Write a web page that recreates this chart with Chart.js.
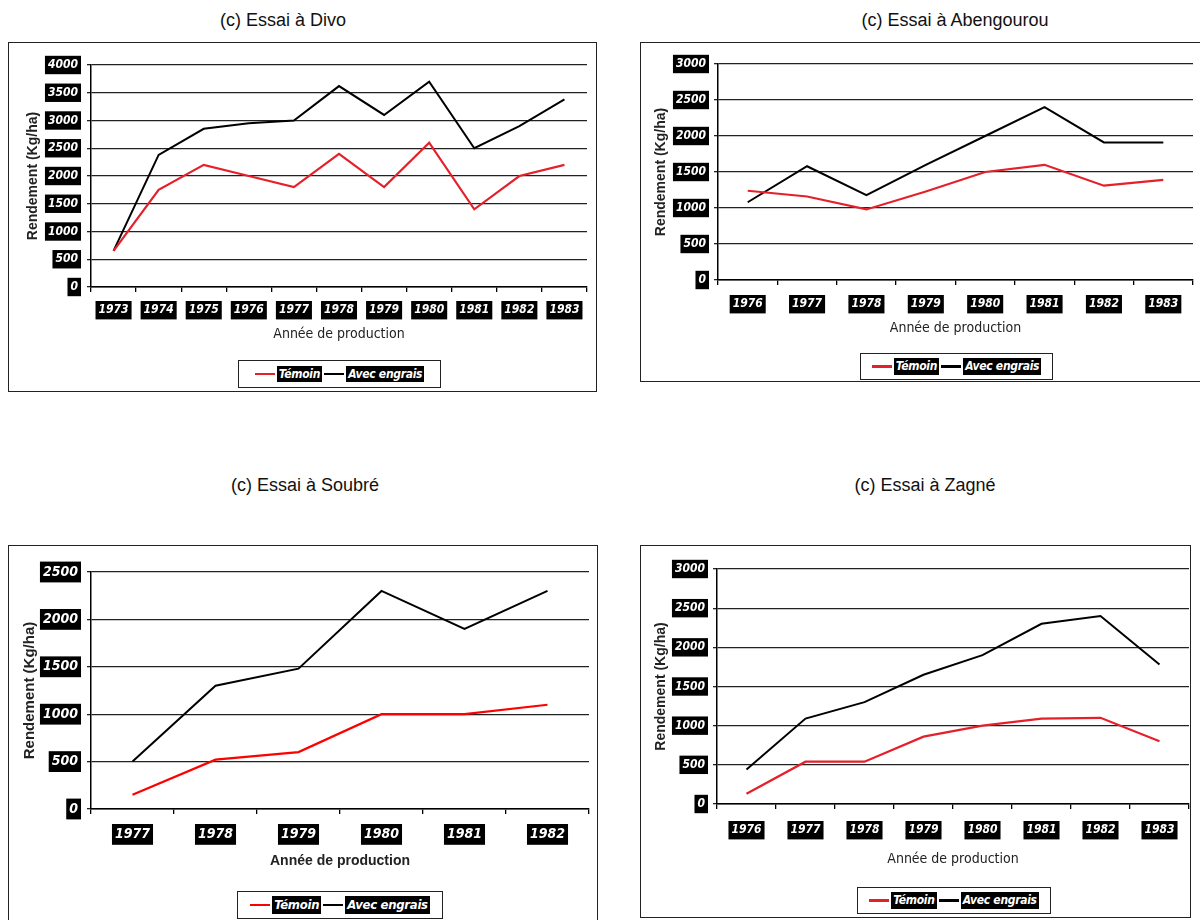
<!DOCTYPE html>
<html lang="fr">
<head>
<meta charset="UTF-8">
<title>Rendements - essais</title>
<script src="https://cdn.jsdelivr.net/npm/chart.js@4.4.1/dist/chart.umd.min.js"></script>
<style>
  body { margin: 0; background: #fff; width: 1200px; height: 920px; position: relative; overflow: hidden;
         font-family: "Liberation Sans", Arial, sans-serif; }
  .ttl { position: absolute; font-size: 18px; transform: translateX(-50%); white-space: nowrap; color: #111; }
  .frame { position: absolute; border: 1.5px solid #222; box-sizing: border-box; pointer-events: none; }
  canvas { position: absolute; }
  .leg { position: absolute; border: 1.5px solid #222; box-sizing: border-box; display: flex;
         align-items: center; justify-content: center; gap: 2px; background: #fff; white-space: nowrap;
         font-family: "Liberation Sans Narrow", "DejaVu Sans Condensed", Arial, sans-serif;
         font-style: italic; font-weight: bold; color: #fff; letter-spacing: -0.3px; }
  .leg .sw { display: inline-block; width: 20px; height: 2.5px; flex: none; }
  .leg .tx { background: #000; padding: 1px 2px; line-height: 1.2; }
</style>
</head>
<body>
<div class="ttl" style="left:283px;top:10px">(c) Essai à Divo</div>
<div class="ttl" style="left:955px;top:10px">(c) Essai à Abengourou</div>
<div class="ttl" style="left:305px;top:475px">(c) Essai à Soubré</div>
<div class="ttl" style="left:925px;top:475px">(c) Essai à Zagné</div>

<canvas id="c1" width="589" height="350" style="left:8px;top:42px"></canvas>
<canvas id="c2" width="563" height="340" style="left:640px;top:42px"></canvas>
<canvas id="c3" width="590" height="380" style="left:8px;top:545px"></canvas>
<canvas id="c4" width="551" height="373" style="left:640px;top:545px"></canvas>

<div class="frame" style="left:8px;top:42px;width:589px;height:350px"></div>
<div class="frame" style="left:640px;top:42px;width:563px;height:340px"></div>
<div class="frame" style="left:8px;top:545px;width:590px;height:380px"></div>
<div class="frame" style="left:640px;top:545px;width:551px;height:373px"></div>

<div class="leg" style="left:238px;top:360px;width:203px;height:28px;font-size:12px">
  <span class="sw" style="background:#e5202a"></span><span class="tx">Témoin</span>
  <span class="sw" style="background:#000"></span><span class="tx">Avec engrais</span>
</div>
<div class="leg" style="left:860px;top:353px;width:193px;height:27px;font-size:12px">
  <span class="sw" style="background:#e5202a"></span><span class="tx">Témoin</span>
  <span class="sw" style="background:#000"></span><span class="tx">Avec engrais</span>
</div>
<div class="leg" style="left:237px;top:891px;width:206px;height:28px;font-size:13px">
  <span class="sw" style="background:#ff0000"></span><span class="tx">Témoin</span>
  <span class="sw" style="background:#000"></span><span class="tx">Avec engrais</span>
</div>
<div class="leg" style="left:857px;top:887px;width:194px;height:27px;font-size:12px">
  <span class="sw" style="background:#e5202a"></span><span class="tx">Témoin</span>
  <span class="sw" style="background:#000"></span><span class="tx">Avec engrais</span>
</div>

<script>
// Divo
const divoYears = ["1973","1974","1975","1976","1977","1978","1979","1980","1981","1982","1983"];
const divoTemoin = [650, 1750, 2200, 2000, 1800, 2400, 1800, 2600, 1400, 2000, 2200];
const divoEngrais = [650, 2380, 2850, 2950, 3000, 3620, 3100, 3700, 2500, 2900, 3380];

// Abengourou
const abengYears = ["1976","1977","1978","1979","1980","1981","1982","1983"];
const abengTemoin = [1240, 1160, 980, 1230, 1500, 1600, 1310, 1390];
const abengEngrais = [1080, 1580, 1180, 1600, 2000, 2400, 1910, 1910];

// Soubré
const soubreYears = ["1977","1978","1979","1980","1981","1982"];
const soubreTemoin = [150, 520, 600, 1000, 1000, 1100];
const soubreEngrais = [500, 1300, 1480, 2300, 1900, 2300];

// Zagné
const zagneYears = ["1976","1977","1978","1979","1980","1981","1982","1983"];
const zagneTemoin = [130, 540, 540, 860, 1000, 1090, 1100, 800];
const zagneEngrais = [440, 1090, 1300, 1650, 1900, 2300, 2400, 1780];

const NARROW = '"Liberation Sans Narrow", "DejaVu Sans Condensed", Arial, sans-serif';
const SANS = '"Liberation Sans", Arial, sans-serif';

function makeChart(id, o) {
  const ctx = document.getElementById(id).getContext("2d");
  const labelFont = { family: NARROW, size: o.fs, style: "italic", weight: "bold" };
  return new Chart(ctx, {
    type: "line",
    data: {
      labels: o.labels,
      datasets: [
        { label: "Témoin", data: o.temoin, borderColor: o.red, borderWidth: 2.2 },
        { label: "Avec engrais", data: o.engrais, borderColor: "#000", borderWidth: 2 }
      ]
    },
    options: {
      responsive: false,
      animation: false,
      events: [],
      elements: { point: { radius: 0 }, line: { tension: 0 } },
      layout: { padding: { left: 0, top: o.pad[0], right: o.pad[1], bottom: o.pad[2] } },
      plugins: { legend: { display: false }, tooltip: { enabled: false } },
      scales: {
        x: {
          offset: true,
          afterFit: s => { s.height = o.xh; },
          grid: { offset: true, drawOnChartArea: false, drawTicks: true, tickLength: 5, color: "#000", lineWidth: 1.3 },
          border: { color: "#000", width: 1.5 },
          ticks: {
            color: "#fff", font: labelFont, padding: o.xpad,
            showLabelBackdrop: true, backdropColor: "#000", backdropPadding: { x: 3, y: 2 },
            maxRotation: 0, autoSkip: false
          },
          title: {
            display: true, text: "Année de production", color: "#222",
            font: o.boldX ? { family: SANS, size: 14, weight: "bold" } : { family: NARROW, size: 14 },
            padding: { top: 4, bottom: 4 }
          }
        },
        y: {
          min: 0, max: o.max,
          afterFit: s => { s.width = o.yw; },
          grid: { color: "#222", lineWidth: 1.3, drawTicks: true, tickLength: 4 },
          border: { color: "#000", width: 1.5 },
          ticks: {
            stepSize: 500, color: "#fff", font: labelFont, padding: o.ypad,
            callback: v => String(v),
            showLabelBackdrop: true, backdropColor: "#000", backdropPadding: { x: 3, y: 2 }
          },
          title: {
            display: true, text: "Rendement (Kg/ha)", color: "#222",
            font: { family: SANS, size: o.yts, weight: "bold" },
            padding: { top: o.ytp, bottom: o.ytp }
          }
        }
      }
    }
  });
}

makeChart("c1", { labels: divoYears, temoin: divoTemoin, engrais: divoEngrais, red: "#e5202a",
  max: 4000, pad: [23, 10, 45], xh: 60, yw: 83, fs: 12, xpad: 11, ypad: 9, yts: 14, ytp: 17 });
makeChart("c2", { labels: abengYears, temoin: abengTemoin, engrais: abengEngrais, red: "#e5202a",
  max: 3000, pad: [22, 10, 41], xh: 61, yw: 78, fs: 12, xpad: 12, ypad: 8, yts: 14, ytp: 13 });
makeChart("c3", { labels: soubreYears, temoin: soubreTemoin, engrais: soubreEngrais, red: "#ff0000",
  max: 2500, pad: [27, 9, 51], xh: 65, yw: 83, fs: 14, xpad: 12, ypad: 9, yts: 15, ytp: 13, boldX: true });
makeChart("c4", { labels: zagneYears, temoin: zagneTemoin, engrais: zagneEngrais, red: "#e5202a",
  max: 3000, pad: [24, 2, 46], xh: 68, yw: 77, fs: 12, xpad: 14, ypad: 8, yts: 14, ytp: 13 });
</script>
</body>
</html>
